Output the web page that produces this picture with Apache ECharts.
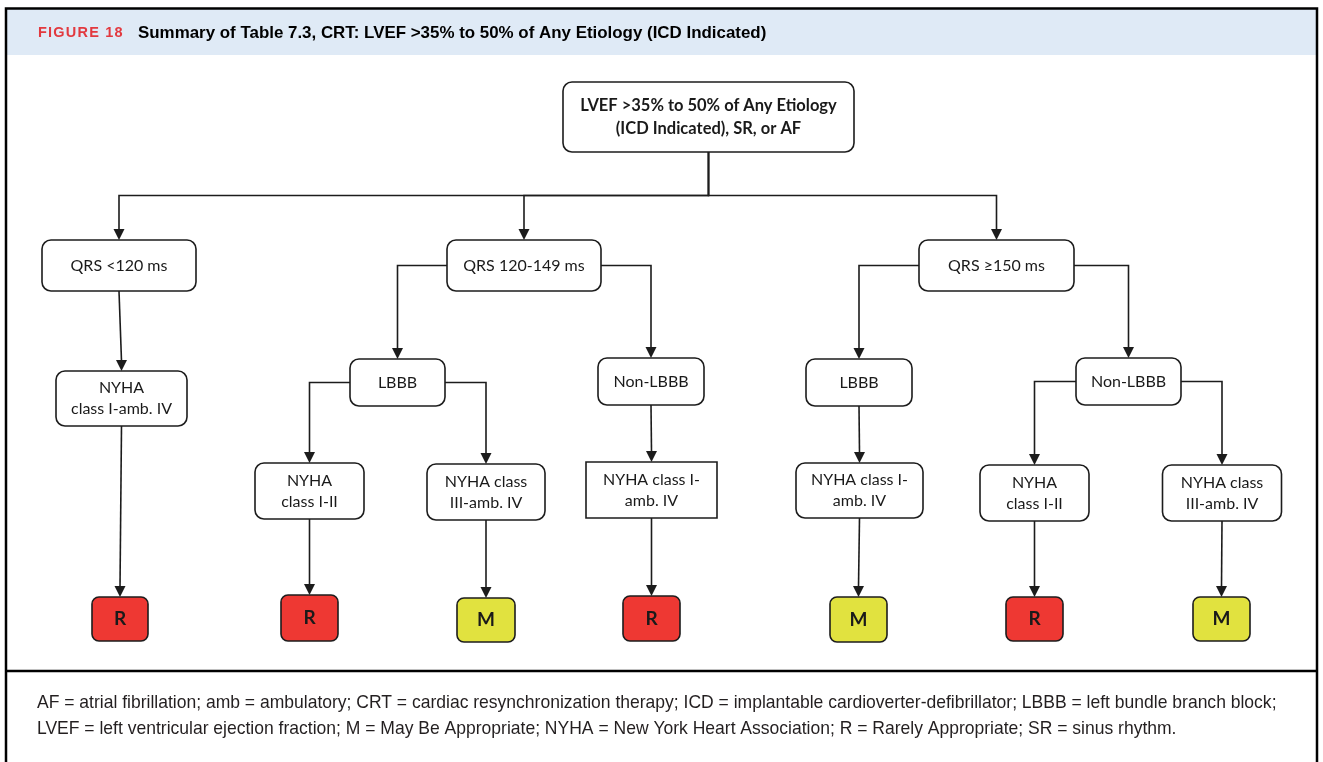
<!DOCTYPE html>
<html>
<head>
<meta charset="utf-8">
<script src="https://cdn.jsdelivr.net/npm/echarts@6/dist/echarts.min.js"></script>
<style>
  html, body { margin: 0; padding: 0; background: #fff; }
  #main { width: 1323px; height: 762px; }
</style>
</head>
<body>
<div id="main"></div>
<script>
// ---- content ----
const headerFig = 'FIGURE 18'
const headerParts = ['Summary of ', 'Table 7.3', ', CRT: LVEF >35% to 50% of Any Etiology (ICD Indicated)']
const footerLines = [
  'AF = atrial fibrillation; amb = ambulatory; CRT = cardiac resynchronization therapy; ICD = implantable cardioverter-defibrillator; LBBB = left bundle branch block;',
  'LVEF = left ventricular ejection fraction; M = May Be Appropriate; NYHA = New York Heart Association; R = Rarely Appropriate; SR = sinus rhythm.'
]

// box texts of the decision tree
const boxLabels = {
  root: 'LVEF >35% to 50% of Any Etiology\n(ICD Indicated), SR, or AF',
  q1: 'QRS <120 ms',
  q2: 'QRS 120-149 ms',
  q3: 'QRS \u2265150 ms',
  b2: 'LBBB',
  nb2: 'Non-LBBB',
  b3: 'LBBB',
  nb3: 'Non-LBBB',
  c1: 'NYHA\nclass I-amb. IV',
  c2: 'NYHA\nclass I-II',
  c3: 'NYHA class\nIII-amb. IV',
  c4: 'NYHA class I-\namb. IV',
  c5: 'NYHA class I-\namb. IV',
  c6: 'NYHA\nclass I-II',
  c7: 'NYHA class\nIII-amb. IV'
}
// appropriateness ratings (leaves)
const ratings = { r1: 'R', r2: 'R', r3: 'M', r4: 'R', r5: 'M', r6: 'R', r7: 'M' }

// parent -> child
const links = [
  ['root', 'q1'], ['root', 'q2'], ['root', 'q3'],
  ['q1', 'c1'], ['q2', 'b2'], ['q2', 'nb2'], ['q3', 'b3'], ['q3', 'nb3'],
  ['b2', 'c2'], ['b2', 'c3'], ['nb2', 'c4'], ['b3', 'c5'], ['nb3', 'c6'], ['nb3', 'c7'],
  ['c1', 'r1'], ['c2', 'r2'], ['c3', 'r3'], ['c4', 'r4'], ['c5', 'r5'], ['c6', 'r6'], ['c7', 'r7']
]

// ---- layout: centre x, centre y, width, height (chart units = px) ----
const layout = {
  root: [708.5, 117, 291, 70],
  q1: [119, 265.5, 154, 51],
  q2: [524, 265.5, 154, 51],
  q3: [996.5, 265.5, 155, 51],
  b2: [397.5, 382.5, 95, 47],
  nb2: [651, 381.5, 106, 47],
  b3: [859, 382.5, 106, 47],
  nb3: [1128.5, 381.5, 105, 47],
  c1: [121.5, 398.5, 131, 55],
  c2: [309.5, 491, 109, 56],
  c3: [486, 492, 118, 56],
  c4: [651.5, 490, 131, 56],
  c5: [859.5, 490.5, 127, 55],
  c6: [1034.5, 493, 109, 56],
  c7: [1222, 493, 119, 56],
  r1: [120, 619, 56, 44],
  r2: [309.5, 618, 57, 46],
  r3: [486, 620, 58, 44],
  r4: [651.5, 618.5, 57, 45],
  r5: [858.5, 619.5, 57, 45],
  r6: [1034.5, 619, 57, 44],
  r7: [1221.5, 619, 57, 44]
}
const busY = 195.5
const squareBoxes = ['c4']

const ratingColors = { R: '#ee3833', M: '#e1e23f' }
const lineColor = '#1c1c1c'
const textColor = '#1a1a1a'
const boxFont = 'Lato, "Open Sans", sans-serif'

// fit a font size so that a text spans a given width
function fitSize (text, weight, family, target) {
  const ctx = document.createElement('canvas').getContext('2d')
  ctx.font = weight + ' 100px ' + family
  return 100 * target / ctx.measureText(text).width
}

// ---- build series data ----
const boxIds = Object.keys(boxLabels).concat(Object.keys(ratings))
const boxData = boxIds.map(id => layout[id])

function route (a, b) {
  const pa = layout[a]
  const pb = layout[b]
  const top = pb[1] - pb[3] / 2
  if (a === 'root') {
    return [[pa[0], pa[1] + pa[3] / 2], [pa[0], busY], [pb[0], busY], [pb[0], top]]
  }
  if (Math.abs(pa[0] - pb[0]) < 6) {
    return [[pa[0], pa[1] + pa[3] / 2], [pb[0], top]]
  }
  const sx = pb[0] < pa[0] ? pa[0] - pa[2] / 2 : pa[0] + pa[2] / 2
  return [[sx, pa[1]], [pb[0], pa[1]], [pb[0], top]]
}
const routes = links.map(l => route(l[0], l[1]))

const chart = echarts.init(document.getElementById('main'), null, { renderer: 'canvas' })

const headFam = '"Liberation Sans", Arial, sans-serif'
const headSize = fitSize(headerParts.join(''), 'bold', headFam, 629)
const figSpaced = headerFig.split('').join('\u200A')
const figSize = Math.min(14.5, fitSize(figSpaced, 'bold', headFam, 89))
const footSize = fitSize(footerLines[0], 'normal', headFam, 1240)

const option = {
  backgroundColor: '#fff',
  animation: false,
  grid: { left: 0, right: 0, top: 0, bottom: 0 },
  xAxis: { type: 'value', min: 0, max: 1323, show: false },
  yAxis: { type: 'value', min: 0, max: 762, inverse: true, show: false },
  graphic: [
    { type: 'rect', shape: { x: 7, y: 9, width: 1309, height: 46 }, style: { fill: '#dfeaf6' }, z: 0 },
    { type: 'polyline', shape: { points: [[6, 762], [6, 8.5], [1317, 8.5], [1317, 762]] }, style: { stroke: '#000', lineWidth: 2.5, fill: null }, z: 10 },
    { type: 'line', shape: { x1: 6, y1: 671, x2: 1317, y2: 671 }, style: { stroke: '#000', lineWidth: 2.5 }, z: 10 },
    {
      type: 'text',
      x: 38,
      y: 33,
      style: { text: figSpaced, font: 'bold ' + figSize + 'px ' + headFam, fill: '#e2393f', verticalAlign: 'middle' },
      z: 11
    },
    {
      type: 'text',
      x: 138,
      y: 33,
      style: {
        text: '{n|' + headerParts[0] + '}{t|' + headerParts[1] + '}{n|' + headerParts[2] + '}',
        verticalAlign: 'middle',
        rich: {
          n: { fontFamily: headFam, fontWeight: 'bold', fontSize: headSize, color: '#17346a' },
          t: { fontFamily: headFam, fontWeight: 'bold', fontSize: headSize, color: '#2f8cc3' }
        }
      },
      z: 11
    },
    {
      type: 'text',
      x: 37,
      y: 703,
      style: { text: footerLines[0], font: footSize + 'px ' + headFam, fill: '#231f20', verticalAlign: 'middle' },
      z: 11
    },
    {
      type: 'text',
      x: 37,
      y: 729,
      style: { text: footerLines[1], font: footSize + 'px ' + headFam, fill: '#231f20', verticalAlign: 'middle' },
      z: 11
    }
  ],
  series: [
    {
      type: 'custom',
      name: 'links',
      coordinateSystem: 'cartesian2d',
      data: links.map((l, i) => [i]),
      encode: { x: -1, y: -1 },
      z: 2,
      renderItem (params, api) {
        const pts = routes[params.dataIndex].map(p => api.coord(p))
        const end = pts[pts.length - 1]
        const aw = 5.5
        const ah = 11
        const line = pts.slice(0, -1).concat([[end[0], end[1] - ah + 1]])
        return {
          type: 'group',
          children: [
            { type: 'polyline', shape: { points: line }, style: { stroke: lineColor, lineWidth: 1.6, fill: null } },
            { type: 'polygon', shape: { points: [[end[0] - aw, end[1] - ah], [end[0] + aw, end[1] - ah], [end[0], end[1]]] }, style: { fill: lineColor } }
          ]
        }
      }
    },
    {
      type: 'custom',
      name: 'boxes',
      coordinateSystem: 'cartesian2d',
      data: boxData,
      z: 3,
      renderItem (params, api) {
        const id = boxIds[params.dataIndex]
        const c = api.coord([api.value(0), api.value(1)])
        const s = api.size([api.value(2), api.value(3)])
        const isRating = ratings[id] !== undefined
        const label = isRating ? ratings[id] : boxLabels[id]
        let font = '16px ' + boxFont
        let lh = 21
        if (id === 'root') { font = 'bold 16.5px ' + boxFont; lh = 23 }
        if (isRating) font = 'bold 19px ' + boxFont
        return {
          type: 'rect',
          shape: { x: c[0] - s[0] / 2, y: c[1] - s[1] / 2, width: s[0], height: s[1], r: squareBoxes.includes(id) ? 0 : (isRating ? 7 : 9) },
          style: { fill: isRating ? ratingColors[label] : '#fff', stroke: lineColor, lineWidth: 1.6 },
          textContent: { style: { text: label, font: font, fill: textColor, lineHeight: lh, align: 'center' } },
          textConfig: { position: 'inside' }
        }
      }
    }
  ]
}
chart.setOption(option)
</script>
</body>
</html>
